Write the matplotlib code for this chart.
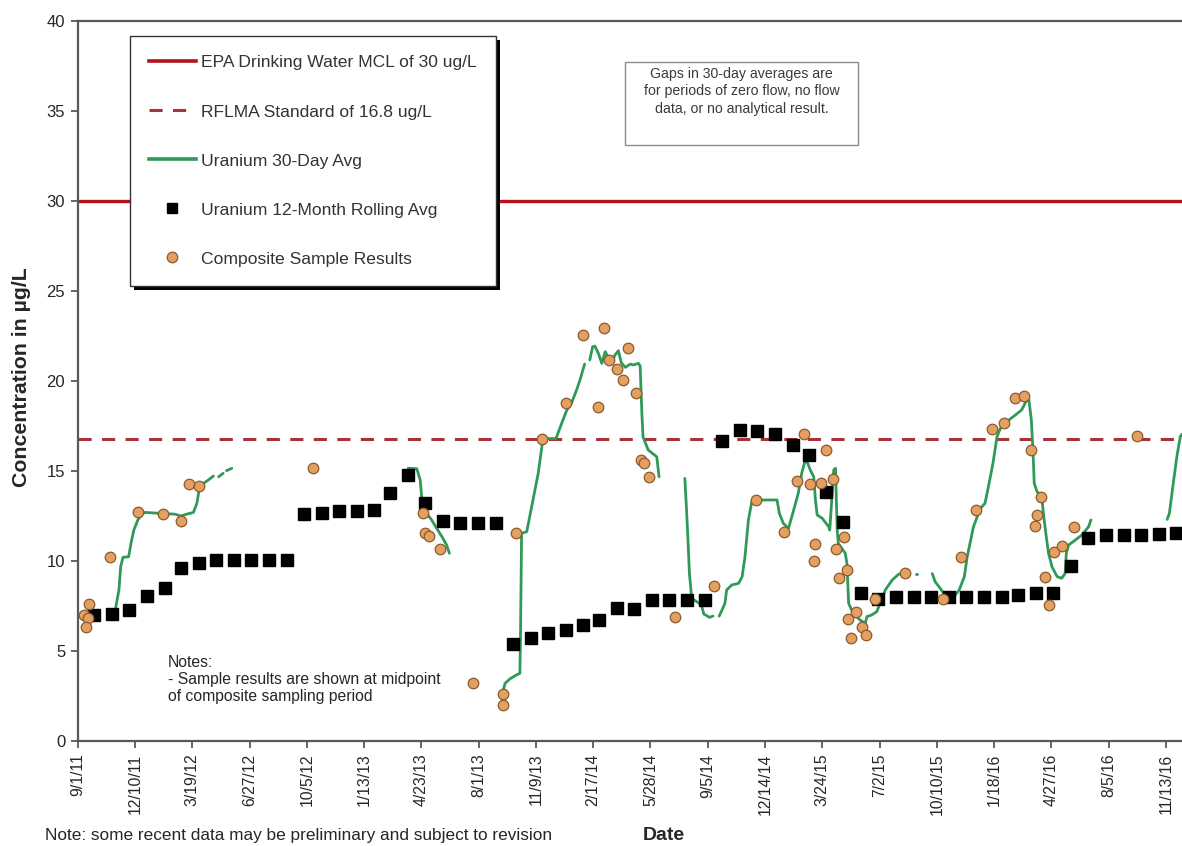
import numpy as np
import pandas as pd
import matplotlib
matplotlib.use("Agg")
import matplotlib.pyplot as plt
from matplotlib.lines import Line2D
from matplotlib.patches import Rectangle

plt.rcParams["font.family"] = ["Liberation Sans", "DejaVu Sans"]

# ---------------------------------------------------------------- data
MCL_LEVEL = 30.0
RFLMA_LEVEL = 16.8

# Uranium 12-month rolling average, one value per month-end (Sep 2011 - Nov 2016)
rolling_start = "2011-09-30"
rolling_vals = [
    7.0, 7.05, 7.3, 8.05,
    8.5, 9.6, 9.9, 10.05, 10.05, 10.05, 10.05, 10.05, 12.6, 12.65, 12.8, 12.8,
    12.85, 13.8, 14.8, 13.2, 12.2, 12.1, 12.1, 12.1, 5.4, 5.75, 6.0, 6.15,
    6.45, 6.75, 7.4, 7.35, 7.85, 7.85, 7.85, 7.85, 16.65, 17.25, 17.2, 17.05,
    16.45, 15.9, 13.85, 12.15, 8.25, 7.9, 8.0, 8.0, 8.0, 8.0, 8.0, 8.0,
    8.0, 8.1, 8.25, 8.2, 9.7, 11.3, 11.45, 11.45, 11.45, 11.5, 11.55,
]

# Composite sample results (midpoint of sampling period)
sample_dates = [
    "2011-09-12", "2011-09-19", "2011-09-15", "2011-09-21", "2011-10-27",
    "2011-12-15", "2012-01-28", "2012-02-28", "2012-03-13", "2012-03-31",
    "2012-10-15", "2013-04-25", "2013-04-29", "2013-05-07", "2013-05-25",
    "2013-07-23", "2013-09-13", "2013-09-13", "2013-10-06", "2013-11-20",
    "2013-12-31", "2014-01-31", "2014-02-25", "2014-03-07", "2014-03-16",
    "2014-03-30", "2014-04-10", "2014-04-18", "2014-05-02", "2014-05-11",
    "2014-05-17", "2014-05-26", "2014-07-09", "2014-09-16", "2014-11-28",
    "2015-01-17", "2015-02-07", "2015-02-20", "2015-03-02", "2015-03-09",
    "2015-03-12", "2015-03-22", "2015-03-31", "2015-04-11", "2015-04-17",
    "2015-04-23", "2015-05-01", "2015-05-06", "2015-05-07", "2015-05-13",
    "2015-05-22", "2015-06-01", "2015-06-09", "2015-06-24", "2015-08-15",
    "2015-10-20", "2015-11-22", "2015-12-17", "2016-01-15", "2016-02-05",
    "2016-02-23", "2016-03-11", "2016-03-23", "2016-03-29", "2016-04-01",
    "2016-04-08", "2016-04-16", "2016-04-23", "2016-05-01", "2016-05-15",
    "2016-06-05", "2016-09-24",
]
sample_vals = [
    7.0, 6.85, 6.35, 7.6, 10.22,
    12.7, 12.62, 12.25, 14.25, 14.15,
    15.15, 12.65, 11.57, 11.39, 10.65,
    3.24, 2.61, 2.02, 11.54, 16.8,
    18.8, 22.58, 18.55, 22.92, 21.14,
    20.65, 20.06, 21.85, 19.34, 15.63,
    15.44, 14.65, 6.89, 8.61, 13.37,
    11.63, 14.45, 17.07, 14.25, 10.02,
    10.93, 14.33, 16.16, 14.54, 10.65,
    9.04, 11.35, 9.48, 6.8, 5.74,
    7.18, 6.31, 5.89, 7.88, 9.32,
    7.89, 10.24, 12.85, 17.33, 17.66,
    19.07, 19.15, 16.15, 11.92, 12.55,
    13.54, 9.1, 7.57, 10.52, 10.86,
    11.88, 16.94,
]

# Uranium 30-day average, drawn as separate runs (gaps = no flow / no result)
avg30_run1 = [
    ("2011-11-05", 7.18), ("2011-11-12", 8.39), ("2011-11-15", 9.68), ("2011-11-19", 10.2),
    ("2011-11-29", 10.24), ("2011-12-03", 10.98), ("2011-12-08", 11.72), ("2011-12-15", 12.28),
    ("2011-12-21", 12.56), ("2011-12-27", 12.7), ("2012-01-22", 12.65), ("2012-02-18", 12.6),
    ("2012-02-28", 12.5), ("2012-03-09", 12.6), ("2012-03-21", 12.7), ("2012-03-27", 13.2),
    ("2012-03-31", 13.94), ("2012-04-07", 14.3), ("2012-04-16", 14.5), ("2012-04-25", 14.72),
]
avg30_run2 = [("2012-05-04", 14.68), ("2012-05-12", 14.87)]
avg30_run3 = [("2012-05-18", 15.02), ("2012-05-27", 15.15)]
avg30_run4 = [
    ("2013-03-31", 15.15), ("2013-04-15", 15.13), ("2013-04-21", 14.5), ("2013-04-24", 13.39),
    ("2013-05-02", 12.65), ("2013-05-11", 12.28), ("2013-05-20", 11.8), ("2013-05-29", 11.35),
    ("2013-06-06", 10.89), ("2013-06-11", 10.43),
]
avg30_run5 = [
    ("2013-09-13", 2.8), ("2013-09-16", 3.2), ("2013-09-25", 3.46), ("2013-10-06", 3.67),
    ("2013-10-12", 3.76), ("2013-10-13", 5.6), ("2013-10-15", 11.54), ("2013-10-24", 11.63),
    ("2013-11-05", 13.57), ("2013-11-13", 14.87), ("2013-11-21", 16.72), ("2013-11-28", 16.8),
    ("2013-12-14", 16.8), ("2013-12-24", 17.65), ("2014-01-02", 18.39), ("2014-01-10", 18.76),
    ("2014-01-19", 19.5), ("2014-01-25", 20.06), ("2014-02-02", 20.94),
]
avg30_run6 = [
    ("2014-02-11", 21.17), ("2014-02-16", 21.9), ("2014-02-20", 21.94), ("2014-02-26", 21.54),
    ("2014-03-04", 20.98), ("2014-03-10", 21.63), ("2014-03-15", 21.32), ("2014-03-21", 21.02),
    ("2014-03-27", 21.44), ("2014-04-02", 21.68), ("2014-04-07", 21.02), ("2014-04-14", 20.76),
    ("2014-04-23", 20.94), ("2014-04-28", 20.89), ("2014-05-07", 20.98), ("2014-05-10", 20.83),
    ("2014-05-13", 18.2), ("2014-05-15", 16.9), ("2014-05-24", 16.17), ("2014-06-02", 15.94),
    ("2014-06-08", 15.79), ("2014-06-12", 14.68),
]
avg30_run7 = [
    ("2014-07-27", 14.59), ("2014-07-30", 12.83), ("2014-08-02", 10.8), ("2014-08-04", 9.31),
    ("2014-08-08", 7.93), ("2014-08-25", 7.56), ("2014-08-29", 7.06), ("2014-09-08", 6.87),
    ("2014-09-14", 6.94),
]
avg30_run8 = [
    ("2014-09-25", 6.94), ("2014-09-30", 7.28), ("2014-10-05", 7.65), ("2014-10-08", 8.39),
    ("2014-10-17", 8.67), ("2014-10-29", 8.76), ("2014-11-04", 9.13), ("2014-11-09", 10.24),
    ("2014-11-15", 12.28), ("2014-11-21", 13.3), ("2014-11-28", 13.39), ("2015-01-04", 13.39),
    ("2015-01-08", 12.65), ("2015-01-15", 12.09), ("2015-01-24", 11.81), ("2015-02-02", 12.83),
    ("2015-02-10", 13.76), ("2015-02-16", 14.87), ("2015-02-23", 15.7), ("2015-03-03", 15.06),
    ("2015-03-09", 14.68), ("2015-03-12", 13.39), ("2015-03-15", 12.56), ("2015-03-24", 12.37),
    ("2015-04-04", 11.91), ("2015-04-06", 11.72), ("2015-04-13", 15.06), ("2015-04-16", 15.15),
    ("2015-04-19", 11.72), ("2015-04-21", 10.98), ("2015-04-27", 10.7), ("2015-05-03", 10.43),
    ("2015-05-06", 9.87), ("2015-05-07", 9.13), ("2015-05-09", 7.65), ("2015-05-17", 7.09),
    ("2015-05-29", 6.72), ("2015-06-07", 6.54), ("2015-06-10", 6.91), ("2015-06-18", 7.0),
    ("2015-06-27", 7.18), ("2015-07-03", 7.65), ("2015-07-12", 8.39), ("2015-07-24", 8.94),
    ("2015-08-04", 9.26), ("2015-08-14", 9.35),
]
avg30_run9 = [("2015-09-03", 9.3), ("2015-09-05", 9.3)]
avg30_run10 = [
    ("2015-10-02", 9.3), ("2015-10-07", 8.85), ("2015-10-16", 8.48), ("2015-10-22", 8.2),
    ("2015-10-31", 7.93), ("2015-11-09", 8.02), ("2015-11-18", 8.39), ("2015-11-27", 9.13),
    ("2015-12-02", 10.24), ("2015-12-13", 11.91), ("2015-12-25", 12.93), ("2016-01-02", 13.2),
    ("2016-01-08", 14.13), ("2016-01-16", 15.43), ("2016-01-23", 16.91), ("2016-01-29", 17.37),
    ("2016-02-09", 17.74), ("2016-02-24", 18.11), ("2016-03-06", 18.39), ("2016-03-12", 18.76),
    ("2016-03-18", 19.13), ("2016-03-23", 17.83), ("2016-03-26", 15.98), ("2016-03-28", 14.32),
    ("2016-04-02", 13.85), ("2016-04-10", 13.57), ("2016-04-13", 12.65), ("2016-04-18", 11.35),
    ("2016-04-22", 10.43), ("2016-04-28", 9.68), ("2016-05-07", 9.13), ("2016-05-15", 9.04),
    ("2016-05-21", 9.31), ("2016-05-23", 10.43), ("2016-05-27", 10.89), ("2016-06-08", 11.17),
    ("2016-06-19", 11.44), ("2016-07-01", 11.91), ("2016-07-05", 12.28),
]
avg30_run11 = [
    ("2016-11-15", 12.31), ("2016-11-19", 12.65), ("2016-11-25", 14.13), ("2016-12-02", 15.8),
    ("2016-12-08", 16.91), ("2016-12-11", 17.05),
]
avg30_runs = [avg30_run1, avg30_run2, avg30_run3, avg30_run4, avg30_run5, avg30_run6,
              avg30_run7, avg30_run8, avg30_run9, avg30_run10, avg30_run11]

# axis ticks: every 100 days from the start of the record
tick_start = "2011-09-01"
x_end = "2016-12-11"
y_ticks = [0, 5, 10, 15, 20, 25, 30, 35, 40]

# ---------------------------------------------------------------- styles
C_MCL = "#B3141C"
C_RFLMA = "#A8323A"
C_GREEN = "#2F9A58"
C_SAMPLE_FACE = "#E3A061"
C_SAMPLE_EDGE = "#8A5A2E"
C_AXIS = "#595959"
C_TEXT = "#262626"

W, H = 1182, 846
fig = plt.figure(figsize=(W / 100, H / 100), dpi=100)
ax_l, ax_r, ax_t, ax_b = 77.7, 1182, 21, 741
ax = fig.add_axes([ax_l / W, 1 - ax_b / H, (ax_r - ax_l) / W, (ax_b - ax_t) / H])

ax.axhline(MCL_LEVEL, color=C_MCL, lw=2.4, zorder=2)
ax.axhline(RFLMA_LEVEL, color=C_RFLMA, lw=2.2, ls=(0, (4.3, 3.4)), zorder=2)

for run in avg30_runs:
    d = pd.to_datetime([p[0] for p in run])
    v = [p[1] for p in run]
    ax.plot(d, v, color=C_GREEN, lw=2.0, solid_capstyle="round", zorder=3)

rolling_dates = pd.date_range(rolling_start, periods=len(rolling_vals), freq="ME")
ax.plot(rolling_dates, rolling_vals, ls="none", marker="s", ms=8.0,
        mfc="black", mec="black", zorder=4)

ax.plot(pd.to_datetime(sample_dates), sample_vals, ls="none", marker="o", ms=7.6,
        mfc=C_SAMPLE_FACE, mec=C_SAMPLE_EDGE, mew=0.9, zorder=5)

# axes
ticks = pd.date_range(tick_start, periods=20, freq="100D")
ax.set_xlim(pd.Timestamp(tick_start), pd.Timestamp(x_end))
ax.set_ylim(0, 40)
ax.set_xticks(ticks)
ax.set_xticklabels([f"{t.month}/{t.day}/{t.strftime('%y')}" for t in ticks],
                   rotation=90, fontsize=11.3, color=C_TEXT)
ax.set_yticks(y_ticks)
ax.set_yticklabels([str(v) for v in y_ticks], fontsize=12, color=C_TEXT)
ax.tick_params(axis="both", direction="out", length=5, width=1.3, color=C_AXIS, pad=4)
for side in ("left", "bottom", "top"):
    ax.spines[side].set_color(C_AXIS)
    ax.spines[side].set_linewidth(1.6)
ax.spines["right"].set_visible(False)

# legend
handles = [
    Line2D([], [], color=C_MCL, lw=2.6),
    Line2D([], [], color=C_RFLMA, lw=2.2, ls=(0, (4.3, 3.4))),
    Line2D([], [], color=C_GREEN, lw=2.6),
    Line2D([], [], ls="none", marker="s", ms=7, mfc="black", mec="black"),
    Line2D([], [], ls="none", marker="o", ms=7.6, mfc=C_SAMPLE_FACE, mec=C_SAMPLE_EDGE, mew=0.9),
]
labels = [
    "EPA Drinking Water MCL of 30 ug/L",
    "RFLMA Standard of 16.8 ug/L",
    "Uranium 30-Day Avg",
    "Uranium 12-Month Rolling Avg",
    "Composite Sample Results",
]
leg = ax.legend(handles, labels, loc="upper left",
                bbox_to_anchor=(130 / W, 1 - 36 / H), bbox_transform=fig.transFigure,
                frameon=True, fancybox=False, shadow=False,
                framealpha=1, edgecolor="#333333", fontsize=12.6,
                labelspacing=1.93, handlelength=2.65, handletextpad=0.3,
                borderpad=1.1, borderaxespad=0)
leg.get_frame().set_linewidth(1.0)
for t in leg.get_texts():
    t.set_color("#333333")
leg.set_zorder(10)

# solid drop shadow behind the legend box
fig.canvas.draw()
bb = leg.get_window_extent().transformed(fig.transFigure.inverted())
ax.add_patch(Rectangle((bb.x0 + 4 / W, bb.y0 - 4 / H), bb.width, bb.height,
                       transform=fig.transFigure, facecolor="black", edgecolor="none",
                       clip_on=False, zorder=9.5))

# explanatory box
bx0, by0, bx1, by1 = 625, 62, 858, 145
fig.patches.append(Rectangle((bx0 / W, 1 - by1 / H), (bx1 - bx0) / W, (by1 - by0) / H,
                             transform=fig.transFigure, facecolor="white",
                             edgecolor="#8c8c8c", lw=1.0, zorder=5))
fig.text((bx0 + bx1) / 2 / W, 1 - 67 / H,
         "Gaps in 30-day averages are\nfor periods of zero flow, no flow\ndata, or no analytical result.",
         ha="center", va="top", fontsize=10.2, linespacing=1.3, color="#3a3a3a", zorder=6)

# notes
fig.text(168 / W, 1 - 655 / H,
         "Notes:\n- Sample results are shown at midpoint\nof composite sampling period",
         ha="left", va="top", fontsize=11.3, linespacing=1.15, color=C_TEXT)
fig.text(45 / W, 1 - 835 / H,
         "Note: some recent data may be preliminary and subject to revision",
         ha="left", va="center", fontsize=12.4, color=C_TEXT)

# axis titles
fig.text(664 / W, 1 - 835 / H, "Date", ha="center", va="center",
         fontsize=14, fontweight="bold", color=C_TEXT)
fig.text(22 / W, 1 - 377 / H, "Concentration in µg/L", ha="center", va="center",
         rotation=90, fontsize=15.3, fontweight="bold", color=C_TEXT)

fig.savefig("out.png", dpi=100)
